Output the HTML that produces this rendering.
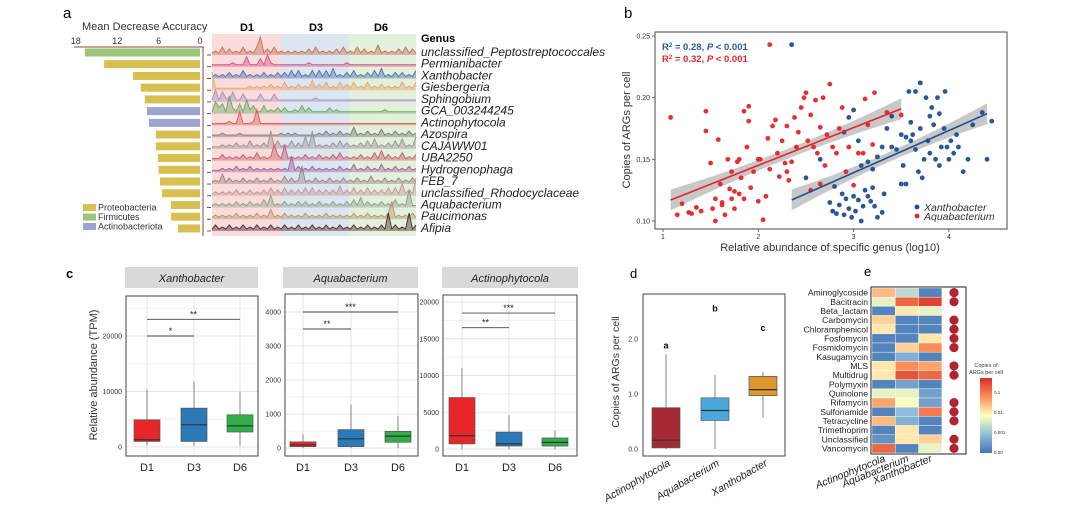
<!DOCTYPE html>
<html><head><meta charset="utf-8"><style>
body{margin:0;background:#fff}
svg{display:block;font-family:"Liberation Sans",Arial,sans-serif}
</style></head><body>
<svg id="fig" width="1080" height="516" viewBox="0 0 1080 516">
<g id="pa"></g>
<g id="pb"></g>
<g id="pc"></g>
<g id="pd"></g>
<g id="pe"></g>
</svg>
<script>
// ---------- Panel a data ----------
const genera = ["unclassified_Peptostreptococcales","Permianibacter","Xanthobacter","Giesbergeria","Sphingobium","GCA_003244245","Actinophytocola","Azospira","CAJAWW01","UBA2250","Hydrogenophaga","FEB_7","unclassified_Rhodocyclaceae","Aquabacterium","Paucimonas","Afipia"];
const mdaValues = [16.7,13.9,9.7,8.6,8.0,7.7,7.4,6.4,6.4,6.1,6.0,5.8,5.5,4.2,4.2,3.2];
const phylum = ["F","P","P","P","P","A","A","P","P","P","P","P","P","P","P","P"];
const mdaTicks = [18,12,6,0];
const ridgeData = [
"121413121412149131412121212131412121314121413121512121314131",
"111111211151114162111111111121111111111211111111111111111111",
"121213121412121312131314141214141415121314121314151213131214",
"911111111112121213121412131215131412141314121412131212141214",
"161521511411114111411111111111211111111111111111111111111111",
"163519315172411412131311214131111131211111111111112111111111",
"111112117111281111111111111111111111111111111111111111111111",
"111211112111111111112121211111121312131215121312141213121312",
"111212131214121319141214131619121213141312131415121314151216",
"111312121312141212831812121312131213141212131214151312141213",
"111212131213121212121218131213121212131214121312141213121312",
"121513121312131213121413129121312131213121312141213121312131",
"121212131213121314131413131414131313151314131413131414161319",
"121212131213121416121312131312131213121314151312131214121911",
"121212131212131215121312121312121312121213121312121391212131",
"131213121312131213121312131213121312131213121312131913121913"
];
const ridgeColors = ["#c47054","#d8508a","#4d72aa","#e9a468","#a890c4","#6aaa62","#e05a55","#7a7a7a","#9a9494","#c85a6a","#a0609c","#9a8484","#c49898","#8ea08e","#b8946a","#4a2a2a"];

// ---------- Panel b data ----------
const redX=[1.08,1.15,1.2,1.27,1.3,1.35,1.4,1.45,1.45,1.5,1.52,1.55,1.55,1.58,1.6,1.62,1.65,1.68,1.7,1.72,1.75,1.75,1.78,1.8,1.82,1.85,1.85,1.88,1.9,1.9,1.92,1.95,2.0,2.02,2.05,2.08,2.1,2.12,2.15,2.18,2.2,2.22,2.25,2.28,2.3,2.32,2.35,2.38,2.4,2.42,2.45,2.48,2.5,2.52,2.55,2.58,2.6,2.62,2.65,2.68,2.7,2.72,2.75,2.78,2.82,2.85,2.88,2.92,2.95,3.0,3.05,3.1,3.12,3.15,3.2,3.22,3.35,3.5,2.12,1.8,2.0,2.3,2.55,2.65,1.62,1.72];
const redY=[.184,.105,.114,.107,.106,.111,.108,.189,.173,.147,.110,.100,.118,.166,.130,.115,.105,.150,.126,.140,.124,.110,.148,.122,.135,.189,.118,.160,.181,.193,.127,.140,.116,.150,.101,.120,.167,.142,.177,.182,.155,.136,.165,.147,.177,.133,.148,.184,.160,.172,.192,.200,.204,.165,.186,.160,.198,.155,.176,.200,.145,.170,.211,.160,.155,.175,.192,.140,.160,.129,.155,.155,.199,.178,.162,.204,.188,.186,.243,.150,.150,.140,.125,.130,.113,.118];
const blueX=[2.35,2.5,2.65,2.75,2.78,2.8,2.82,2.85,2.88,2.9,2.92,2.95,2.98,3.0,3.02,3.05,3.08,3.1,3.12,3.15,3.18,3.2,3.22,3.25,3.3,3.32,2.9,2.95,3.0,3.05,3.08,3.15,3.2,3.25,3.3,3.35,3.4,3.45,3.5,3.5,3.52,3.55,3.58,3.6,3.62,3.65,3.65,3.68,3.7,3.72,3.74,3.76,3.78,3.8,3.8,3.82,3.84,3.86,3.88,3.9,3.9,3.92,3.95,3.96,3.98,4.0,4.02,4.05,4.08,4.1,4.15,4.2,4.25,4.35,4.4,4.45,3.55,3.4,3.6,3.7];
const blueY=[.243,.135,.150,.115,.108,.128,.106,.113,.122,.105,.118,.110,.103,.120,.108,.117,.100,.112,.125,.120,.116,.127,.112,.103,.107,.122,.172,.184,.190,.165,.145,.148,.142,.152,.160,.175,.160,.158,.170,.130,.145,.168,.205,.180,.170,.205,.158,.140,.212,.135,.150,.200,.165,.185,.155,.192,.178,.150,.200,.187,.145,.160,.175,.205,.160,.150,.165,.155,.170,.160,.140,.150,.178,.188,.150,.181,.130,.185,.165,.175];
const redFit=[1.08,0.117,3.5,0.191];
const blueFit=[2.35,0.117,4.4,0.187];
const bXTicks=[1,2,3,4];
const bYTicks=[0.10,0.15,0.20,0.25];

// ---------- Panel c data ----------
const cGroups=["D1","D3","D6"];
const cTitles=["Xanthobacter","Aquabacterium","Actinophytocola"];
const xanBox=[[300,1000,1300,4900,10300],[200,1000,4000,7000,11800],[300,2700,3800,5800,10000]];
const aquBox=[[0,40,90,180,400],[0,40,270,540,1280],[0,170,350,490,940]];
const actBox=[[0,700,1800,7000,11000],[0,400,700,2300,4600],[0,400,900,1500,2500]];
const xanTicks=[0,10000,20000];
const aquTicks=[0,1000,2000,3000,4000];
const actTicks=[0,5000,10000,15000,20000];
const xanSig=[[0,1,20000,"*"],[0,2,23000,"**"]];
const aquSig=[[0,1,3500,"**"],[0,2,4000,"***"]];
const actSig=[[0,1,16500,"**"],[0,2,18500,"***"]];

// ---------- Panel d data ----------
const dGroups=["Actinophytocola","Aquabacterium","Xanthobacter"];
const dBox=[[0,0.02,0.16,0.75,1.72],[0,0.52,0.70,0.93,1.35],[0.57,0.97,1.08,1.32,1.40]];
const dLetters=[["a",1.83],["b",2.5],["c",2.15]];
const dTicks=[0.0,1.0,2.0];

// ---------- Panel e data ----------
const argClasses=["Aminoglycoside","Bacitracin","Beta_lactam","Carbomycin","Chloramphenicol","Fosfomycin","Fosmidomycin","Kasugamycin","MLS","Multidrug","Polymyxin","Quinolone","Rifamycin","Sulfonamide","Tetracycline","Trimethoprim","Unclassified","Vancomycin"];
const heatActino=[0.65,0.45,0.05,0.6,0.55,0.05,0.05,0.05,0.55,0.55,0.05,0.45,0.7,0.05,0.65,0.05,0.1,0.85];
const heatAqua=[0.35,0.85,0.55,0.05,0.05,0.05,0.6,0.2,0.75,0.9,0.15,0.45,0.5,0.25,0.2,0.55,0.55,0.05];
const heatXantho=[0.05,0.95,0.45,0.05,0.05,0.55,0.75,0.05,0.7,0.85,0.05,0.15,0.15,0.8,0.05,0.05,0.6,0.45];
const sigDots=[1,1,0,1,1,1,1,0,1,1,0,0,1,1,1,0,1,1];
const cbTicks=["0.1","0.01","0.001","0.00"];

// ---------- helpers ----------
const NS="http://www.w3.org/2000/svg";
function mk(parent,tag,attrs,text){const e=document.createElementNS(NS,tag);for(const k in attrs)e.setAttribute(k,attrs[k]);if(text!==undefined)e.textContent=text;parent.appendChild(e);return e;}
const pa=document.getElementById('pa'),pb=document.getElementById('pb'),pc=document.getElementById('pc'),pd=document.getElementById('pd'),pe=document.getElementById('pe');

// ===== Panel a =====
let t=mk(pa,'text',{x:63,y:18,'font-size':15},'a');


t=mk(pa,'text',{x:82,y:30,'font-size':11,fill:'#333'},'Mean Decrease Accuracy');


const mX=v=>200-v*6.9;
const rowY=i=>52+i*11.73;
mk(pa,'line',{x1:74,y1:47,x2:204,y2:47,stroke:'#8a4a3a','stroke-width':1});
mk(pa,'line',{x1:203,y1:47,x2:203,y2:236,stroke:'#8a4a3a','stroke-width':1});
mdaTicks.forEach(v=>{t=mk(pa,'text',{x:mX(v),y:44,'font-size':9,'text-anchor':'middle',fill:'#333'},v);

});
const phyCol={P:"#d8c050",F:"#9cc47a",A:"#9ea4d0"};
mdaValues.forEach((v,i)=>{const r=mk(pa,'rect',{x:mX(v),y:rowY(i)-3.5,width:v*6.9,height:8,fill:phyCol[phylum[i]]});

});
[["Proteobacteria","P"],["Firmicutes","F"],["Actinobacteriota","A"]].forEach((p,i)=>{
mk(pa,'rect',{x:83,y:204+i*9.5,width:13,height:7,fill:phyCol[p[1]]});
t=mk(pa,'text',{x:98,y:210.5+i*9.5,'font-size':9,fill:'#333'},p[0]);

});
mk(pa,'rect',{x:212,y:34,width:69,height:202,fill:'#fbdcdc'});
mk(pa,'rect',{x:281,y:34,width:68,height:202,fill:'#dce6f0'});
mk(pa,'rect',{x:349,y:34,width:67,height:202,fill:'#e2f0dc'});
[["D1",247],["D3",316],["D6",381]].forEach(d=>{t=mk(pa,'text',{x:d[1],y:31,'font-size':11,'font-weight':'bold','text-anchor':'middle'},d[0]);

});
t=mk(pa,'text',{x:421,y:42,'font-size':11,'font-weight':'bold'},'Genus');


ridgeData.forEach((s,i)=>{
 const base=rowY(i)+3, n=s.length, w=204/(n-1);
 let pts=[];for(let k=0;k<n;k++){pts.push([212+k*w, base-(+s[k])*2.0]);}
 let d="M"+pts.map(p=>p[0].toFixed(1)+","+p[1].toFixed(1)).join(" L");
 const f=mk(pa,'path',{d:d+` L416,${base} L212,${base} Z`,fill:ridgeColors[i],'fill-opacity':0.45,stroke:'none'});
 
 
 mk(pa,'path',{d:d,fill:'none',stroke:ridgeColors[i],'stroke-width':0.9});
 mk(pa,'line',{x1:207,y1:base,x2:211,y2:base,stroke:'#333','stroke-width':0.8});
 t=mk(pa,'text',{x:421,y:rowY(i)+4,'font-size':12,'font-style':'italic',fill:'#222'},genera[i]);
 
 
});

// ===== Panel b =====
t=mk(pb,'text',{x:624,y:18,'font-size':15},'b');


const bx=v=>663+(v-1)*95.3, by=v=>221-(v-0.10)/0.15*185;
const bf=mk(pb,'rect',{x:655,y:32,width:352,height:197,fill:'#fff',stroke:'#666','stroke-width':1.2});


bXTicks.forEach(v=>{mk(pb,'line',{x1:bx(v),y1:229,x2:bx(v),y2:232,stroke:'#666'});
t=mk(pb,'text',{x:bx(v),y:239,'font-size':7,'text-anchor':'middle',fill:'#333'},v);

});
bYTicks.forEach(v=>{mk(pb,'line',{x1:652,y1:by(v),x2:655,y2:by(v),stroke:'#666'});
t=mk(pb,'text',{x:650,y:by(v)+2.5,'font-size':7,'text-anchor':'end',fill:'#333'},v.toFixed(2));

});
t=mk(pb,'text',{x:830,y:251,'font-size':11,'text-anchor':'middle',fill:'#333'},'Relative abundance of specific genus (log10)');


t=mk(pb,'text',{x:0,y:0,'font-size':11,'text-anchor':'middle',fill:'#333',transform:'translate(630,130) rotate(-90)'},'Copies of ARGs per cell');


function band(fit){const [x1,y1,x2,y2]=fit;const xm=(x1+x2)/2;
 const wAt=x=>0.004+0.0045*Math.pow((x-xm)/((x2-x1)/2),2);
 let up=[],lo=[];for(let k=0;k<=20;k++){const x=x1+(x2-x1)*k/20,y=y1+(y2-y1)*k/20;up.push(bx(x)+","+by(y+wAt(x)));lo.unshift(bx(x)+","+by(y-wAt(x)));}
 const p=mk(pb,'polygon',{points:up.concat(lo).join(" "),fill:'#9a9a9a','fill-opacity':0.55});
 
 }
band(redFit);band(blueFit);
redX.forEach((x,i)=>{const c=mk(pb,'circle',{cx:bx(x),cy:by(redY[i]),r:2.4,fill:'#e3262b','fill-opacity':0.95});

});
blueX.forEach((x,i)=>{const c=mk(pb,'circle',{cx:bx(x),cy:by(blueY[i]),r:2.4,fill:'#1f4f8e','fill-opacity':0.95});

});
let l=mk(pb,'line',{x1:bx(redFit[0]),y1:by(redFit[1]),x2:bx(redFit[2]),y2:by(redFit[3]),stroke:'#e3262b','stroke-width':1.6});


l=mk(pb,'line',{x1:bx(blueFit[0]),y1:by(blueFit[1]),x2:bx(blueFit[2]),y2:by(blueFit[3]),stroke:'#1f4f8e','stroke-width':1.6});


t=mk(pb,'text',{x:662,y:50,'font-size':9.5,'font-weight':'bold',fill:'#2a5a9a'});
t.innerHTML='R<tspan font-size="6" dy="-3">2</tspan><tspan dy="3"> = 0.28, </tspan><tspan font-style="italic">P</tspan> &lt; 0.001';


t=mk(pb,'text',{x:662,y:62,'font-size':9.5,'font-weight':'bold',fill:'#e3262b'});
t.innerHTML='R<tspan font-size="6" dy="-3">2</tspan><tspan dy="3"> = 0.32, </tspan><tspan font-style="italic">P</tspan> &lt; 0.001';


mk(pb,'circle',{cx:917,cy:207,r:2.4,fill:'#1f4f8e'});
mk(pb,'circle',{cx:917,cy:216,r:2.4,fill:'#e3262b'});
t=mk(pb,'text',{x:924,y:211,'font-size':10.5,'font-style':'italic',fill:'#333'},'Xanthobacter');


t=mk(pb,'text',{x:924,y:220,'font-size':10.5,'font-style':'italic',fill:'#333'},'Aquabacterium');



// ===== Panel c =====
t=mk(pc,'text',{x:66,y:278,'font-size':13,'font-weight':'bold'},'c');


t=mk(pc,'text',{x:0,y:0,'font-size':11,'text-anchor':'middle',fill:'#333',transform:'translate(97,375) rotate(-90)'},'Relative abundance (TPM)');


const boxCols=["#e8262a","#2a7ab8","#2fae4a"];
const facets=[
 {x0:126,x1:258,y0:296,zero:447,top:20000,topY:336,xs:[147,194,240],box:xanBox,ticks:xanTicks,sig:xanSig,strip:[125,258],minor:[5000,15000,25000]},
 {x0:285,x1:418,y0:294,zero:448,top:4000,topY:312,xs:[303,351,398],box:aquBox,ticks:aquTicks,sig:aquSig,strip:[283,418],minor:[500,1500,2500,3500]},
 {x0:443,x1:577,y0:295,zero:449,top:20000,topY:302,xs:[462,509,555],box:actBox,ticks:actTicks,sig:actSig,strip:[442,578],minor:[2500,7500,12500,17500]}
];
facets.forEach((f,fi)=>{
 const fy=v=>f.zero-(v/f.top)*(f.zero-f.topY);
 const s=mk(pc,'rect',{x:f.strip[0],y:267,width:f.strip[1]-f.strip[0],height:21,fill:'#d9d9d9'});
 
 
 t=mk(pc,'text',{x:(f.strip[0]+f.strip[1])/2,y:282,'font-size':11,'font-style':'italic','text-anchor':'middle',fill:'#222'},cTitles[fi]);
 
 
 mk(pc,'rect',{x:f.x0,y:f.y0,width:f.x1-f.x0,height:456-f.y0,fill:'#fff'});
 f.minor.forEach(v=>{if(fy(v)>f.y0)mk(pc,'line',{x1:f.x0,x2:f.x1,y1:fy(v),y2:fy(v),stroke:'#f0f0f0','stroke-width':1});});
 f.ticks.forEach(v=>{mk(pc,'line',{x1:f.x0,x2:f.x1,y1:fy(v),y2:fy(v),stroke:'#e4e4e4','stroke-width':1});
  t=mk(pc,'text',{x:f.x0-4,y:fy(v)+2.5,'font-size':7,'text-anchor':'end',fill:'#333'},v);
  
  });
 f.xs.forEach(x=>mk(pc,'line',{x1:x,x2:x,y1:f.y0,y2:456,stroke:'#e4e4e4'}));
 f.box.forEach((b,i)=>{const x=f.xs[i];
  mk(pc,'line',{x1:x,x2:x,y1:fy(b[0]),y2:fy(b[4]),stroke:'#777','stroke-width':0.9});
  const r=mk(pc,'rect',{x:x-13,y:fy(b[3]),width:26,height:fy(b[1])-fy(b[3]),fill:boxCols[i],stroke:'#555','stroke-width':0.7});
  
  
  mk(pc,'line',{x1:x-13,x2:x+13,y1:fy(b[2]),y2:fy(b[2]),stroke:'#333','stroke-width':1.2});
  t=mk(pc,'text',{x:x,y:471,'font-size':11,'text-anchor':'middle',fill:'#222'},cGroups[i]);
  
  
 });
 f.sig.forEach(sg=>{const y=fy(sg[2]);
  const ln=mk(pc,'line',{x1:f.xs[sg[0]],x2:f.xs[sg[1]],y1:y,y2:y,stroke:'#444','stroke-width':0.9});
  
  
  t=mk(pc,'text',{x:(f.xs[sg[0]]+f.xs[sg[1]])/2,y:y-2,'font-size':9,'text-anchor':'middle',fill:'#222'},sg[3]);
  
  });
 mk(pc,'rect',{x:f.x0,y:f.y0,width:f.x1-f.x0,height:456-f.y0,fill:'none',stroke:'#444','stroke-width':1});
});

// ===== Panel d =====
t=mk(pd,'text',{x:630,y:278,'font-size':13},'d');


const dy=v=>449-v*55;
const dxs=[666,715,763], dCols=["#a52a35","#4aa8dc","#e0972f"];
mk(pd,'rect',{x:643,y:294,width:142,height:162,fill:'#fff',stroke:'#444','stroke-width':1});
dTicks.forEach(v=>{t=mk(pd,'text',{x:638,y:dy(v)+2.5,'font-size':7,'text-anchor':'end',fill:'#333'},v.toFixed(1));

});
t=mk(pd,'text',{x:0,y:0,'font-size':10.5,'text-anchor':'middle',fill:'#333',transform:'translate(619,372) rotate(-90)'},'Copies of ARGs per cell');


dBox.forEach((b,i)=>{const x=dxs[i];
 mk(pd,'line',{x1:x,x2:x,y1:dy(b[0]),y2:dy(b[4]),stroke:'#777','stroke-width':0.9});
 const r=mk(pd,'rect',{x:x-14,y:dy(b[3]),width:28,height:dy(b[1])-dy(b[3]),fill:dCols[i],stroke:'#555','stroke-width':0.7});
 
 
 mk(pd,'line',{x1:x-14,x2:x+14,y1:dy(b[2]),y2:dy(b[2]),stroke:'#333','stroke-width':1.2});
 t=mk(pd,'text',{x:x,y:dy(dLetters[i][1]),'font-size':9,'font-weight':'bold','text-anchor':'middle'},dLetters[i][0]);
 
 
 t=mk(pd,'text',{x:0,y:0,'font-size':10.5,'font-style':'italic','text-anchor':'end',fill:'#222',transform:`translate(${x+5},465) rotate(-30)`},dGroups[i]);
 
 
});

// ===== Panel e =====
t=mk(pe,'text',{x:864,y:276,'font-size':13},'e');


const stops=[[0,[69,117,180]],[0.25,[145,191,219]],[0.5,[255,255,191]],[0.75,[252,141,89]],[1,[215,48,39]]];
function cmap(v){for(let i=0;i<stops.length-1;i++){const [a,ca]=stops[i],[b,cb]=stops[i+1];if(v<=b){const t=(v-a)/(b-a);return `rgb(${ca.map((c,j)=>Math.round(c+(cb[j]-c)*t)).join(',')})`;}}return 'rgb(215,48,39)';}
const eRowH=(453-288)/18, eCols=[heatActino,heatAqua,heatXantho], eNames=["Actinophytocola","Aquabacterium","Xanthobacter"];
mk(pe,'rect',{x:871,y:287,width:95,height:167,fill:'#fff',stroke:'#444','stroke-width':1.2});
argClasses.forEach((name,i)=>{const y=288+i*eRowH;
 eCols.forEach((col,j)=>{const r=mk(pe,'rect',{x:872+j*23.3,y:y,width:23.3,height:eRowH,fill:cmap(col[i]),stroke:'#fff','stroke-width':0.4});
  
  });
 if(sigDots[i]){const c=mk(pe,'circle',{cx:954,cy:y+eRowH/2,r:4.6,fill:'#b0242f'});
  
  }
 t=mk(pe,'text',{x:868,y:y+eRowH/2+3,'font-size':8.6,'text-anchor':'end',fill:'#222'},name);
 
 
});
eNames.forEach((n,j)=>{t=mk(pe,'text',{x:0,y:0,'font-size':10.5,'font-style':'italic','text-anchor':'end',fill:'#222',transform:`translate(${886+j*23.3},461) rotate(-22)`},n);

});
const defs=mk(pe,'defs',{});const lg=mk(defs,'linearGradient',{id:'cb',x1:0,y1:1,x2:0,y2:0});
stops.forEach(s=>mk(lg,'stop',{offset:s[0],'stop-color':`rgb(${s[1].join(',')})`}));
const cb=mk(pe,'rect',{x:980,y:378,width:12,height:75,fill:'url(#cb)'});


t=mk(pe,'text',{x:986,y:367,'font-size':5.5,'text-anchor':'middle',fill:'#333'},'Copies of');


t=mk(pe,'text',{x:986,y:374,'font-size':5.5,'text-anchor':'middle',fill:'#333'},'ARGs per cell');


cbTicks.forEach((v,i)=>{const y=392+i*20;
 t=mk(pe,'text',{x:994,y:y+2,'font-size':4.5,fill:'#333'},v);
 
 });
</script>
</body></html>
